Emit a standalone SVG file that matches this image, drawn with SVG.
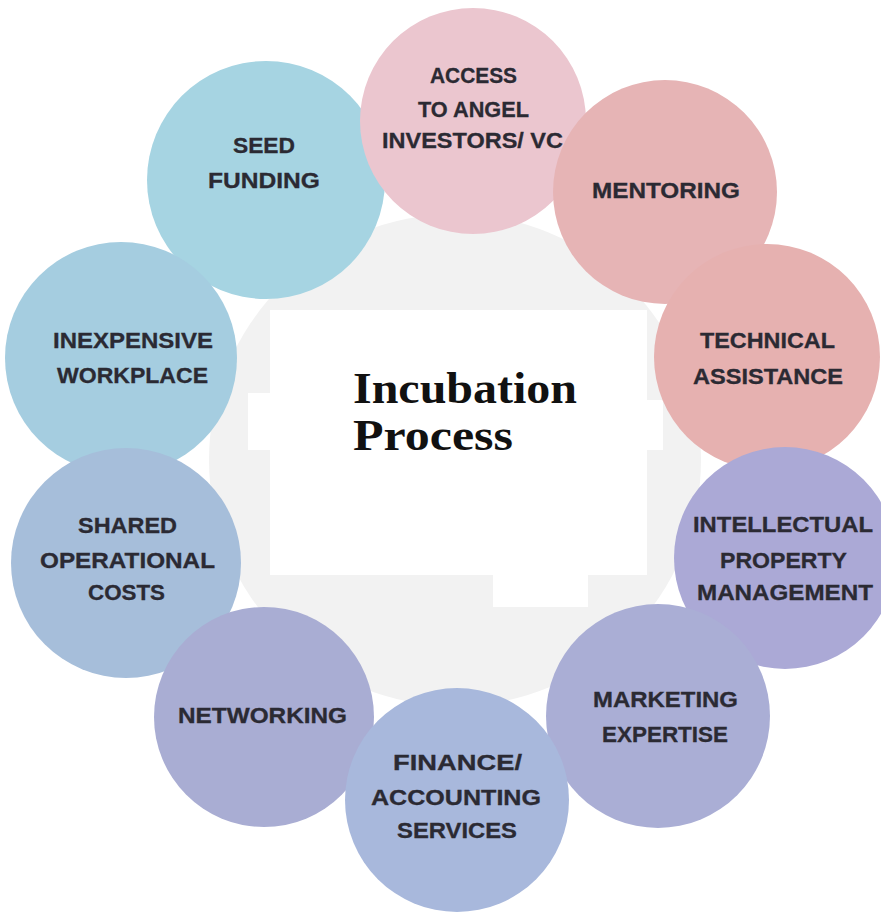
<svg xmlns="http://www.w3.org/2000/svg" width="881" height="913" viewBox="0 0 881 913">
<style>
.lbl{font-family:"Liberation Sans",Arial,sans-serif;font-weight:bold;font-size:22px;fill:#2b2a33;stroke:#2b2a33;stroke-width:0.3;text-anchor:start}
.ttl{font-family:"Liberation Serif","Times New Roman",serif;font-weight:bold;font-size:45px;fill:#111}
</style>
<rect width="881" height="913" fill="#ffffff"/>
<g id="center">
<circle cx="455" cy="460" r="246" fill="#f2f2f2"/>
<path d="M270 310 H647 V400 H663 V450 H647 V575 H588 V607 H493 V575 H270 V450 H248 V393 H270 Z" fill="#ffffff"/>
<text class="ttl" x="353" y="403" textLength="224" lengthAdjust="spacingAndGlyphs">Incubation</text>
<text class="ttl" x="353" y="450" textLength="160" lengthAdjust="spacingAndGlyphs">Process</text>
</g>
<g id="connectors"></g>
<g id="seed-funding">
<circle cx="266" cy="180" r="119" fill="#a6d4e2"/>
<text class="lbl" x="233" y="153" textLength="62" lengthAdjust="spacingAndGlyphs">SEED</text>
<text class="lbl" x="208" y="188" textLength="112" lengthAdjust="spacingAndGlyphs">FUNDING</text>
</g>
<g id="access-angel">
<circle cx="473" cy="121" r="113" fill="#ebc6cf"/>
<text class="lbl" x="430" y="83" textLength="87" lengthAdjust="spacingAndGlyphs">ACCESS</text>
<text class="lbl" x="418" y="117" textLength="111" lengthAdjust="spacingAndGlyphs">TO ANGEL</text>
<text class="lbl" x="382" y="148" textLength="181" lengthAdjust="spacingAndGlyphs">INVESTORS/ VC</text>
</g>
<g id="mentoring">
<circle cx="665" cy="192" r="112" fill="#e6b4b5"/>
<text class="lbl" x="592" y="198" textLength="148" lengthAdjust="spacingAndGlyphs">MENTORING</text>
</g>
<g id="technical-assistance">
<circle cx="767" cy="357" r="113" fill="#e6b1b0"/>
<text class="lbl" x="700" y="348" textLength="135" lengthAdjust="spacingAndGlyphs">TECHNICAL</text>
<text class="lbl" x="693" y="384" textLength="150" lengthAdjust="spacingAndGlyphs">ASSISTANCE</text>
</g>
<g id="ip-management">
<circle cx="785" cy="558" r="111" fill="#aba9d6"/>
<text class="lbl" x="693" y="532" textLength="180" lengthAdjust="spacingAndGlyphs">INTELLECTUAL</text>
<text class="lbl" x="720" y="568" textLength="127" lengthAdjust="spacingAndGlyphs">PROPERTY</text>
<text class="lbl" x="697" y="600" textLength="176" lengthAdjust="spacingAndGlyphs">MANAGEMENT</text>
</g>
<g id="marketing-expertise">
<circle cx="658" cy="716" r="112" fill="#aaaed5"/>
<text class="lbl" x="593" y="707" textLength="145" lengthAdjust="spacingAndGlyphs">MARKETING</text>
<text class="lbl" x="602" y="742" textLength="126" lengthAdjust="spacingAndGlyphs">EXPERTISE</text>
</g>
<g id="inexpensive-workplace">
<circle cx="121" cy="358" r="116" fill="#a5cde0"/>
<text class="lbl" x="53" y="348" textLength="160" lengthAdjust="spacingAndGlyphs">INEXPENSIVE</text>
<text class="lbl" x="57" y="383" textLength="151" lengthAdjust="spacingAndGlyphs">WORKPLACE</text>
</g>
<g id="shared-costs">
<circle cx="126" cy="563" r="115" fill="#a6beda"/>
<text class="lbl" x="78" y="533" textLength="99" lengthAdjust="spacingAndGlyphs">SHARED</text>
<text class="lbl" x="40" y="568" textLength="175" lengthAdjust="spacingAndGlyphs">OPERATIONAL</text>
<text class="lbl" x="88" y="600" textLength="77" lengthAdjust="spacingAndGlyphs">COSTS</text>
</g>
<g id="networking">
<circle cx="264" cy="717" r="110" fill="#a9add3"/>
<text class="lbl" x="178" y="723" textLength="169" lengthAdjust="spacingAndGlyphs">NETWORKING</text>
</g>
<g id="finance-accounting">
<circle cx="457" cy="800" r="112" fill="#a8b8dc"/>
<text class="lbl" x="393" y="770" textLength="129" lengthAdjust="spacingAndGlyphs">FINANCE/</text>
<text class="lbl" x="371" y="805" textLength="170" lengthAdjust="spacingAndGlyphs">ACCOUNTING</text>
<text class="lbl" x="397" y="838" textLength="120" lengthAdjust="spacingAndGlyphs">SERVICES</text>
</g>
</svg>
